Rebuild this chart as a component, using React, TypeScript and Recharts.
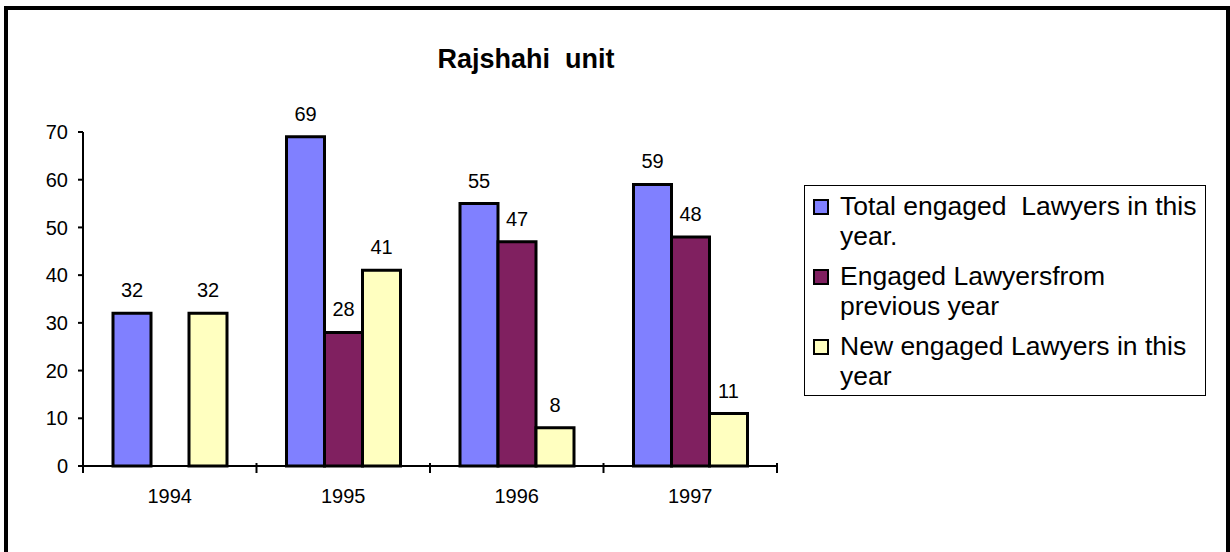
import { BarChart, Bar, XAxis, YAxis, LabelList, Legend } from 'recharts';

const years = ['1994', '1995', '1996', '1997'];
const totalEngaged = [32, 69, 55, 59];
const fromPrevious = [null, 28, 47, 48];
const newEngaged = [32, 41, 8, 11];
const yTicks = [0, 10, 20, 30, 40, 50, 60, 70];

const seriesNames = [
  'Total engaged  Lawyers in this year.',
  'Engaged Lawyersfrom previous year',
  'New engaged Lawyers in this year',
];
const legendLines = [
  ['Total engaged  Lawyers in this', 'year.'],
  ['Engaged Lawyersfrom', 'previous year'],
  ['New engaged Lawyers in this', 'year'],
];
const colors = ['#8080FF', '#802060', '#FFFFC0'];

const data = years.map((year, i) => ({
  year,
  total: totalEngaged[i],
  previous: fromPrevious[i],
  fresh: newEngaged[i],
}));

const FONT = '"Liberation Sans", Arial, sans-serif';

function YearTick(props: any) {
  const { x, y, payload, index } = props;
  const half = payload.offset ?? 0;
  return (
    <g>
      <line x1={x - half} y1={y - 3} x2={x - half} y2={y + 7} stroke="#000" strokeWidth={2} />
      {index === years.length - 1 && (
        <line x1={x + half} y1={y - 3} x2={x + half} y2={y + 7} stroke="#000" strokeWidth={2} />
      )}
      <text x={x} y={y + 37} textAnchor="middle" fontSize={20} fontFamily={FONT} fill="#000">
        {payload.value}
      </text>
    </g>
  );
}

function LegendBox() {
  return (
    <div
      style={{
        boxSizing: 'border-box',
        width: 402,
        height: 211,
        border: '1.5px solid #000',
        background: '#fff',
        padding: '5px 0 0 8px',
        fontFamily: FONT,
        fontSize: 26.5,
        lineHeight: '30px',
        color: '#000',
        textAlign: 'left',
      }}
    >
      {legendLines.map((lines, i) => (
        <div key={seriesNames[i]} style={{ display: 'flex', marginBottom: 10 }}>
          <span
            style={{
              boxSizing: 'border-box',
              width: 16,
              height: 16,
              marginTop: 8,
              marginRight: 11,
              flex: 'none',
              border: '2.5px solid #000',
              background: colors[i],
            }}
          />
          <div>
            {lines.map((l) => (
              <div key={l} style={{ whiteSpace: 'pre' }}>{l}</div>
            ))}
          </div>
        </div>
      ))}
    </div>
  );
}

export default function App() {
  return (
    <div
      style={{
        position: 'absolute',
        left: 0,
        top: 0,
        width: 1230,
        height: 552,
        overflow: 'hidden',
        background: '#fff',
      }}
    >
      <div
        style={{
          position: 'absolute',
          left: 4,
          top: 6,
          width: 1226,
          height: 570,
          boxSizing: 'border-box',
          border: '4px solid #000',
        }}
      />
      <div
        style={{
          position: 'absolute',
          left: 376,
          top: 44,
          width: 300,
          textAlign: 'center',
          fontFamily: FONT,
          fontWeight: 'bold',
          fontSize: 27,
          lineHeight: '30px',
          whiteSpace: 'pre',
        }}
      >
        Rajshahi  unit
      </div>
      <div style={{ position: 'absolute', left: 0, top: 0 }}>
        <BarChart
          width={1230}
          height={552}
          data={data}
          margin={{ top: 132, right: 453, bottom: 56, left: 0 }}
          barCategoryGap={30}
          barGap={0}
        >
          <XAxis
            dataKey="year"
            height={30}
            tickSize={0}
            tickMargin={0}
            tickLine={false}
            axisLine={{ stroke: '#000', strokeWidth: 2 }}
            tick={<YearTick />}
            interval={0}
          />
          <YAxis
            width={83}
            domain={[0, 70]}
            ticks={yTicks}
            interval={0}
            tickSize={5}
            tickMargin={10}
            axisLine={{ stroke: '#000', strokeWidth: 2 }}
            tickLine={{ stroke: '#000', strokeWidth: 2 }}
            tick={{ fontSize: 20, fontFamily: FONT, fill: '#000' }}
          />
          <Legend
            layout="horizontal"
            verticalAlign="middle"
            align="center"
            content={<LegendBox />}
            wrapperStyle={{ left: 804, top: 185, width: 402, height: 211 }}
          />
          <Bar dataKey="total" name={seriesNames[0]} fill={colors[0]} stroke="#000" strokeWidth={3} isAnimationActive={false}>
            <LabelList dataKey="total" position="top" offset={16} fontSize={20} fontFamily={FONT} fill="#000" />
          </Bar>
          <Bar dataKey="previous" name={seriesNames[1]} fill={colors[1]} stroke="#000" strokeWidth={3} isAnimationActive={false}>
            <LabelList dataKey="previous" position="top" offset={16} fontSize={20} fontFamily={FONT} fill="#000" />
          </Bar>
          <Bar dataKey="fresh" name={seriesNames[2]} fill={colors[2]} stroke="#000" strokeWidth={3} isAnimationActive={false}>
            <LabelList dataKey="fresh" position="top" offset={16} fontSize={20} fontFamily={FONT} fill="#000" />
          </Bar>
        </BarChart>
      </div>
    </div>
  );
}
